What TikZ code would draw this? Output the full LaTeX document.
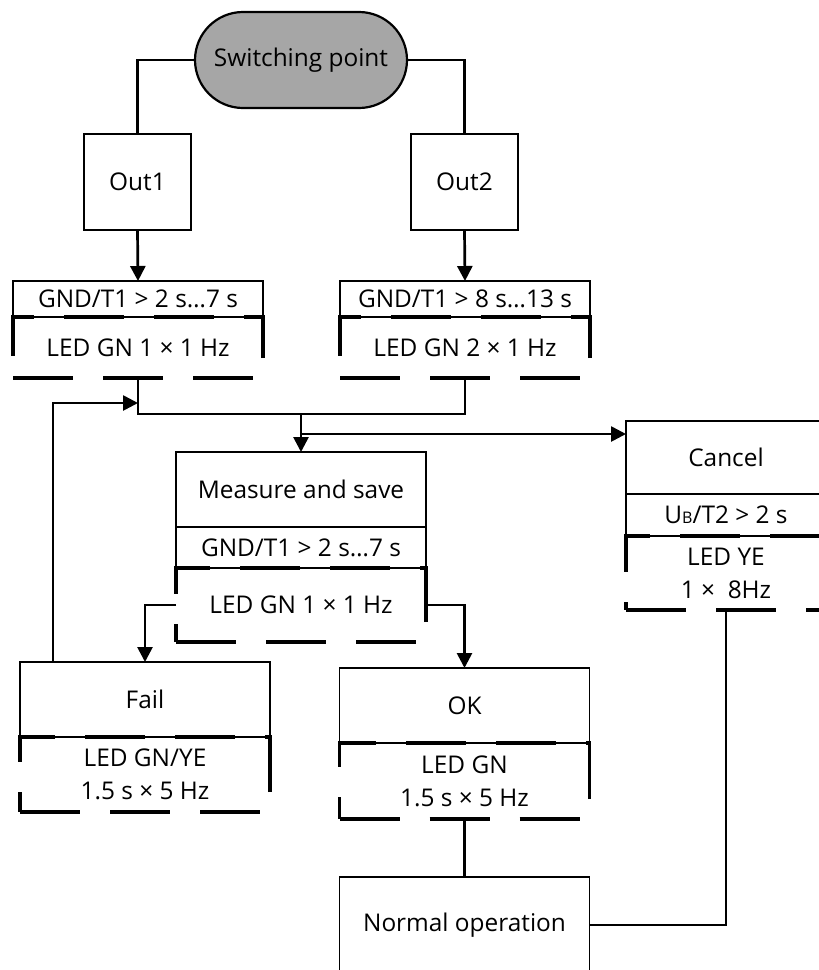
\documentclass[tikz,border=0pt]{standalone}
\usepackage{fontspec}
\setmainfont{Open Sans}
\usetikzlibrary{positioning,arrows.meta,shapes.misc}

\definecolor{pillgray}{HTML}{A6A6A6}

\tikzset{
  box/.style={draw, line width=0.75pt, inner sep=0pt, outer sep=0pt, align=center, minimum width=125pt},
  headbox/.style={box, minimum height=37.5pt},
  condbox/.style={box, minimum height=#1},
  ledbox/.style={inner sep=0pt, outer sep=0pt, align=center, minimum width=125pt, minimum height=#1},
  pill/.style={rounded rectangle, draw, line width=1.1pt, fill=pillgray, minimum width=106pt, minimum height=48pt, inner sep=0pt},
  dashedge/.style={line width=1.6pt, dash pattern=on 30pt off 15pt},
  link/.style={line width=1.35pt},
  arrow/.style={link, -{Triangle[length=7.5pt,width=7.5pt]}},
}

% gestrichelter Rahmen um den LED-Teil
\newcommand\ledframe[1]{\draw[dashedge] (#1.south west) -- (#1.south east) -- (#1.north east) -- (#1.north west) -- cycle;}

\begin{document}
\begin{tikzpicture}[x=0.5pt,y=-0.5pt, every node/.style={font=\fontsize{12.2}{16.5}\selectfont}]
    \useasboundingbox (0,0) rectangle (819,970);
    \clip (0,0) rectangle (819,970);

    % Schaltpunkt und Ausgaenge
    \node[pill] (sp) at (301,60) {Switching point};
    \node[box, minimum width=53.5pt, minimum height=48pt] (out1) at (137.5,182) {Out1};
    \node[box, minimum width=53.5pt, minimum height=48pt] (out2) at (464.5,182) {Out2};

    % Zeitfenster
    \node[condbox=18pt] (stA) at (138,299) {GND/T1 > 2 s…7 s};
    \node[ledbox=30.5pt, below=0pt of stA] (ledA) {LED GN 1 × 1 Hz};
    \node[condbox=18pt] (stB) at (465,299) {GND/T1 > 8 s…13 s};
    \node[ledbox=30.5pt, below=0pt of stB] (ledB) {LED GN 2 × 1 Hz};

    % Messen
    \node[headbox] (msr) at (301,489.5) {Measure and save};
    \node[condbox=20.5pt, below=0pt of msr] (msrT) {GND/T1 > 2 s…7 s};
    \node[ledbox=37pt, below=0pt of msrT] (msrL) {LED GN 1 × 1 Hz};

    % Abbruch
    \node[headbox, minimum width=100pt, minimum height=36.5pt] (cnc) at (726,457.5) {Cancel};
    \node[condbox=21pt, minimum width=100pt, below=0pt of cnc] (cncT) {U{\fontsize{8}{8}\selectfont B}/T2 > 2 s};
    \node[ledbox=37pt, minimum width=100pt, below=0pt of cncT] (cncL) {LED YE\\1 ×\ \ 8Hz};

    % Ergebnis
    \node[headbox] (fail) at (145,699.5) {Fail};
    \node[ledbox=37.5pt, below=0pt of fail] (failL) {LED GN/YE\\1.5 s × 5 Hz};
    \node[headbox] (ok) at (464.5,705.5) {OK};
    \node[ledbox=38pt, below=0pt of ok] (okL) {LED GN\\1.5 s × 5 Hz};
    \node[box, minimum height=48pt] (norm) at (464.5,925) {Normal operation};

    \ledframe{ledA}
    \ledframe{ledB}
    \ledframe{msrL}
    \ledframe{cncL}
    \ledframe{failL}
    \ledframe{okL}

    % Verbindungen
    \draw[link] (sp.west) -| (out1.north);
    \draw[link] (sp.east) -| (out2.north);
    \draw[arrow] (out1.south) -- (stA.north);
    \draw[arrow] (out2.south) -- (stB.north);

    \coordinate (join) at (301,414);
    \coordinate (tap) at (301,434);
    \draw[link] (ledA.south) |- (join) -| (ledB.south);
    \draw[arrow] (join) -- (msr.north);
    \draw[arrow] (tap) -- (tap -| cnc.west);

    \coordinate (back) at ([xshift=16.5pt]fail.north west);
    \coordinate (ret) at (138,403);
    \draw[arrow] (back) |- (ret);

    \draw[arrow] (msrL.west) -| (fail.north);
    \draw[arrow] (msrL.east) -| (ok.north);
    \draw[link] (okL.south) -- (norm.north);
    \draw[link] (cncL.south) |- (norm.east);
\end{tikzpicture}
\end{document}
